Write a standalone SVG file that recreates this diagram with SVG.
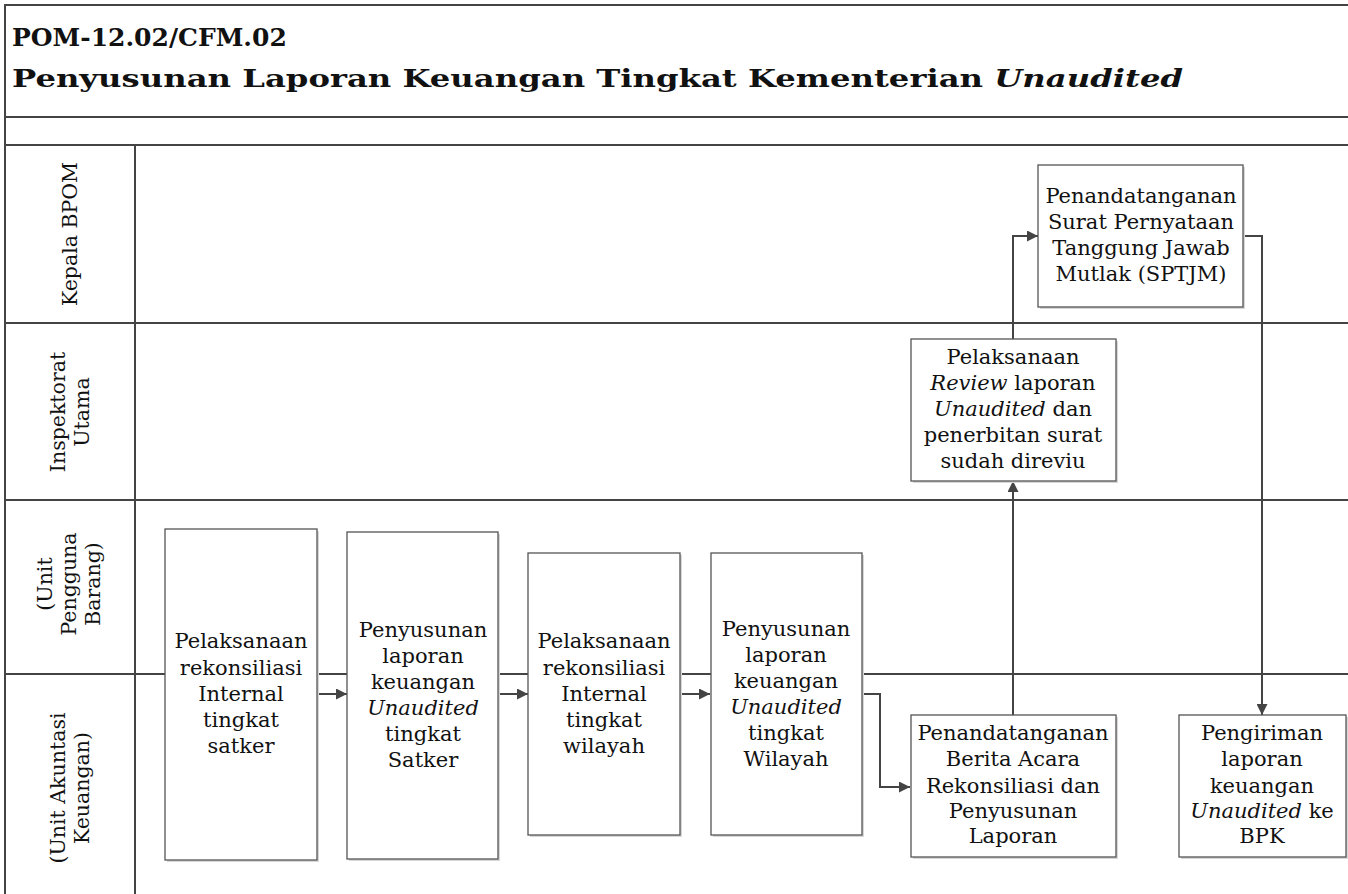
<svg xmlns="http://www.w3.org/2000/svg" width="1348" height="894" viewBox="0 0 1348 894">
  <style>
    .frame { stroke: #444; stroke-width: 2; fill: none; }
    .box { fill: #fff; stroke: #555; stroke-width: 1.3; }
    .shadow { fill: #d8d8d8; }
    .t { font-family: "DejaVu Serif", "Liberation Serif", serif; font-size: 21px; fill: #111; text-anchor: middle; }
    .lane { font-family: "DejaVu Serif", "Liberation Serif", serif; font-size: 20.5px; fill: #111; text-anchor: middle; }
    .title { font-family: "DejaVu Serif", "Liberation Serif", serif; font-size: 25px; font-weight: bold; fill: #111; }
    .i { font-style: italic; }
    .conn { stroke: #444; stroke-width: 2; fill: none; marker-end: url(#arrow); }
  </style>
  <defs>
    <marker id="arrow" viewBox="0 0 10 10" refX="10" refY="5" markerWidth="11" markerHeight="11" markerUnits="userSpaceOnUse" orient="auto">
      <path d="M0,0 L10,5 L0,10 z" fill="#444"/>
    </marker>
  </defs>
  <rect width="1348" height="894" fill="#fff"/>

  <!-- title block -->
  <g id="title">
    <text class="title" x="12" y="46">POM-12.02/CFM.02</text>
    <text class="title" x="12" y="87" font-size="28" textLength="1171" lengthAdjust="spacingAndGlyphs">Penyusunan Laporan Keuangan Tingkat Kementerian <tspan class="i">Unaudited</tspan></text>
  </g>

  <!-- frame and swimlanes -->
  <g id="lanes">
    <line class="frame" x1="5" y1="5" x2="1348" y2="5"/>
    <line class="frame" x1="5" y1="4" x2="5" y2="894"/>
    <line class="frame" x1="5" y1="117" x2="1348" y2="117"/>
    <line class="frame" x1="5" y1="145" x2="1348" y2="145"/>
    <line class="frame" x1="5" y1="323" x2="1348" y2="323"/>
    <line class="frame" x1="5" y1="500" x2="1348" y2="500"/>
    <line class="frame" x1="5" y1="674" x2="1348" y2="674"/>
    <line class="frame" x1="135" y1="145" x2="135" y2="894"/>
    <text class="lane" transform="translate(77,234) rotate(-90)">Kepala BPOM</text>
    <text class="lane" transform="translate(65,412) rotate(-90)">Inspektorat</text>
    <text class="lane" transform="translate(89,412) rotate(-90)">Utama</text>
    <text class="lane" transform="translate(52,584) rotate(-90)">(Unit</text>
    <text class="lane" transform="translate(76,584) rotate(-90)">Pengguna</text>
    <text class="lane" transform="translate(100,584) rotate(-90)">Barang)</text>
    <text class="lane" transform="translate(65,788) rotate(-90)">(Unit Akuntasi</text>
    <text class="lane" transform="translate(89,788) rotate(-90)">Keuangan)</text>
  </g>

  <!-- connectors -->
  <g id="connectors">
    <path class="conn" d="M317,694 H347"/>
    <path class="conn" d="M498,694 H528"/>
    <path class="conn" d="M680,694 H710"/>
    <path class="conn" d="M862,694 H880 V787 H910"/>
    <path class="conn" d="M1013,715 V481"/>
    <path class="conn" d="M1013,339 V236 H1038"/>
    <path class="conn" d="M1243,236 H1262 V715"/>
  </g>

  <g id="n1">
    <rect class="shadow" x="167" y="531" width="152" height="331"/>
    <rect class="box" x="165" y="529" width="152" height="331"/>
    <text class="t" x="241" y="648">Pelaksanaan</text>
    <text class="t" x="241" y="675">rekonsiliasi</text>
    <text class="t" x="241" y="701">Internal</text>
    <text class="t" x="241" y="727">tingkat</text>
    <text class="t" x="241" y="753">satker</text>
  </g>

  <g id="n2">
    <rect class="shadow" x="349" y="534" width="151" height="327"/>
    <rect class="box" x="347" y="532" width="151" height="327"/>
    <text class="t" x="423" y="637">Penyusunan</text>
    <text class="t" x="423" y="663">laporan</text>
    <text class="t" x="423" y="689">keuangan</text>
    <text class="t i" x="423" y="715">Unaudited</text>
    <text class="t" x="423" y="741">tingkat</text>
    <text class="t" x="423" y="767">Satker</text>
  </g>

  <g id="n3">
    <rect class="shadow" x="530" y="555" width="152" height="282"/>
    <rect class="box" x="528" y="553" width="152" height="282"/>
    <text class="t" x="604" y="648">Pelaksanaan</text>
    <text class="t" x="604" y="675">rekonsiliasi</text>
    <text class="t" x="604" y="701">Internal</text>
    <text class="t" x="604" y="727">tingkat</text>
    <text class="t" x="604" y="753">wilayah</text>
  </g>

  <g id="n4">
    <rect class="shadow" x="713" y="555" width="151" height="282"/>
    <rect class="box" x="711" y="553" width="151" height="282"/>
    <text class="t" x="786" y="636">Penyusunan</text>
    <text class="t" x="786" y="662">laporan</text>
    <text class="t" x="786" y="688">keuangan</text>
    <text class="t i" x="786" y="714">Unaudited</text>
    <text class="t" x="786" y="740">tingkat</text>
    <text class="t" x="786" y="766">Wilayah</text>
  </g>

  <g id="n5">
    <rect class="shadow" x="913" y="717" width="205" height="142"/>
    <rect class="box" x="911" y="715" width="205" height="142"/>
    <text class="t" x="1013" y="740">Penandatanganan</text>
    <text class="t" x="1013" y="766">Berita Acara</text>
    <text class="t" x="1013" y="793">Rekonsiliasi dan</text>
    <text class="t" x="1013" y="818">Penyusunan</text>
    <text class="t" x="1013" y="843">Laporan</text>
  </g>

  <g id="n6">
    <rect class="shadow" x="1181" y="717" width="167" height="142"/>
    <rect class="box" x="1179" y="715" width="167" height="142"/>
    <text class="t" x="1262" y="740">Pengiriman</text>
    <text class="t" x="1262" y="766">laporan</text>
    <text class="t" x="1262" y="793">keuangan</text>
    <text class="t" x="1262" y="818"><tspan class="i">Unaudited</tspan> ke</text>
    <text class="t" x="1262" y="843">BPK</text>
  </g>

  <g id="n7">
    <rect class="shadow" x="913" y="341" width="205" height="142"/>
    <rect class="box" x="911" y="339" width="205" height="142"/>
    <text class="t" x="1013" y="364">Pelaksanaan</text>
    <text class="t" x="1013" y="390"><tspan class="i">Review</tspan> laporan</text>
    <text class="t" x="1013" y="416"><tspan class="i">Unaudited</tspan> dan</text>
    <text class="t" x="1013" y="442">penerbitan surat</text>
    <text class="t" x="1013" y="468">sudah direviu</text>
  </g>

  <g id="n8">
    <rect class="shadow" x="1040" y="167" width="205" height="142"/>
    <rect class="box" x="1038" y="165" width="205" height="142"/>
    <text class="t" x="1141" y="203">Penandatanganan</text>
    <text class="t" x="1141" y="229">Surat Pernyataan</text>
    <text class="t" x="1141" y="255">Tanggung Jawab</text>
    <text class="t" x="1141" y="281">Mutlak (SPTJM)</text>
  </g>
</svg>
